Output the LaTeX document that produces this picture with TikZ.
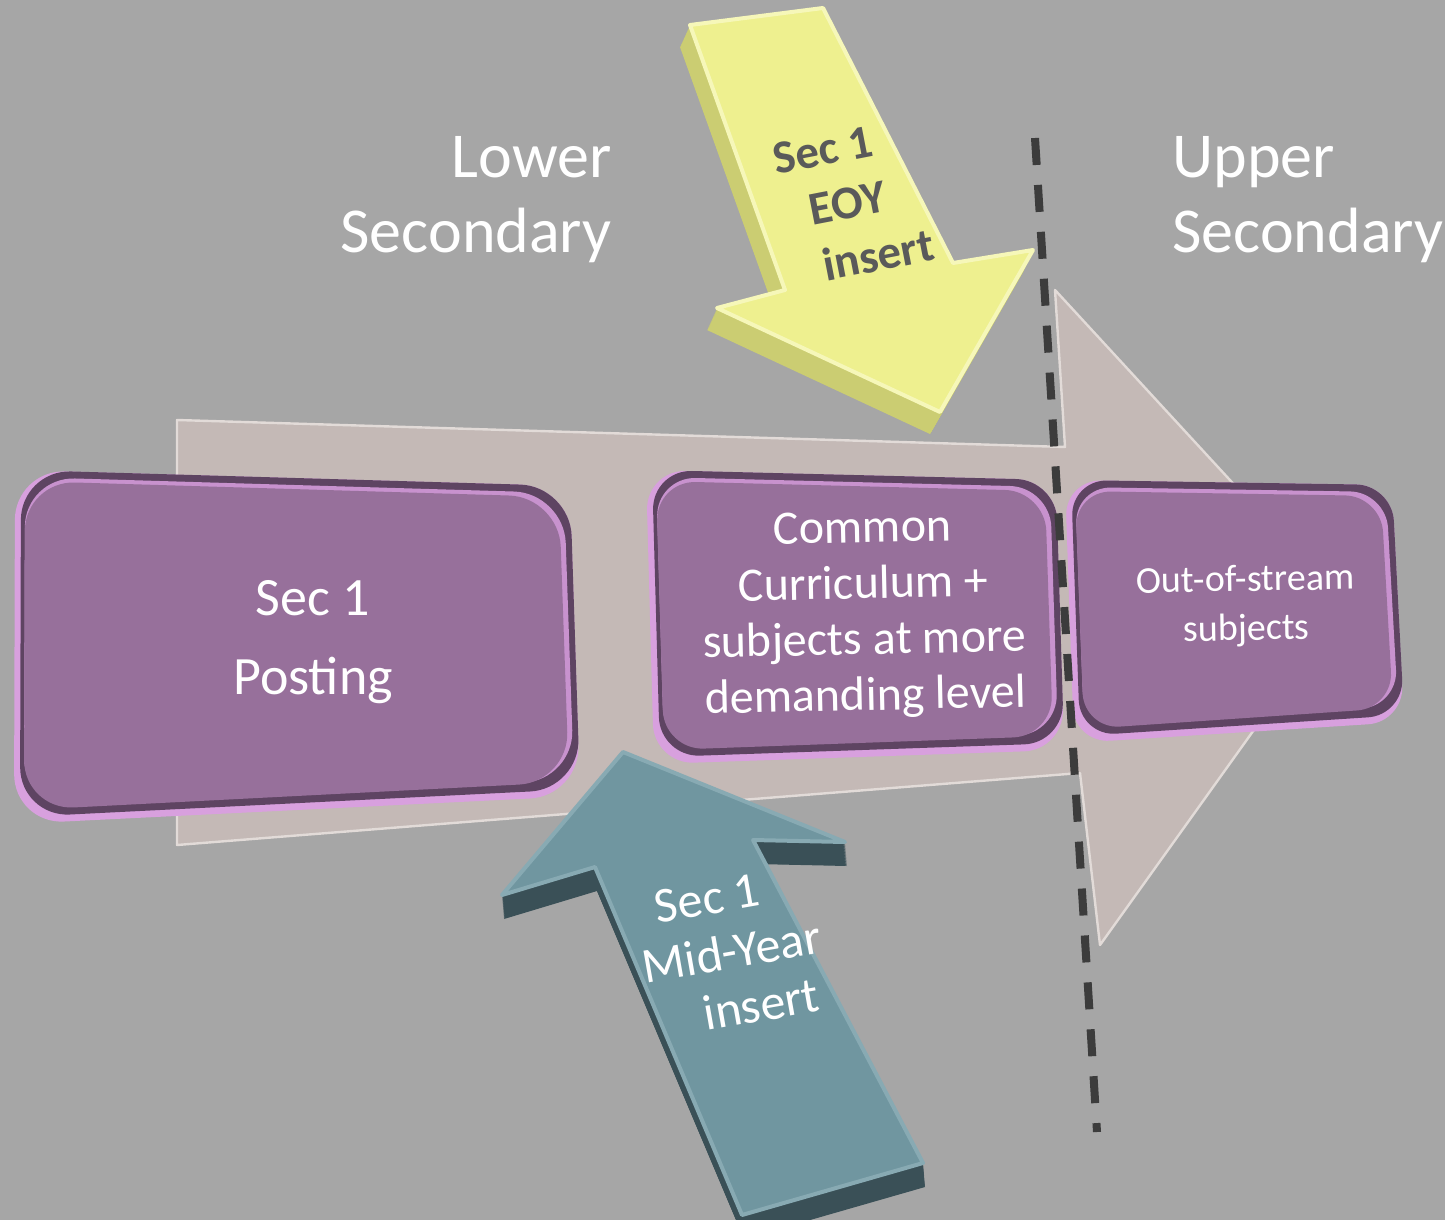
\documentclass[tikz,border=0pt]{standalone}
\usepackage{fontspec}
\setmainfont{Carlito}
\usetikzlibrary{calc}
\definecolor{bg}{RGB}{166,166,166}
\definecolor{bigarr}{RGB}{196,185,182}
\definecolor{bigedge}{RGB}{226,219,216}
\definecolor{boxpink}{RGB}{216,160,222}
\definecolor{boxdark}{RGB}{94,68,98}
\definecolor{boxhl}{RGB}{200,146,206}
\definecolor{boxface}{RGB}{151,112,155}
\definecolor{yface}{RGB}{238,240,143}
\definecolor{yside}{RGB}{203,205,114}
\definecolor{yhl}{RGB}{246,247,185}
\definecolor{ytext}{RGB}{90,90,90}
\definecolor{tface}{RGB}{112,150,160}
\definecolor{tside}{RGB}{58,80,87}
\definecolor{thl}{RGB}{136,170,179}
\definecolor{dashc}{RGB}{60,60,60}
\newcommand\qbox[6]{%
  \fill[#6] ($(#1tl)+({#2},{#3})$) -- ($(#1tr)+({-(#4)},{#3})$) -- ($(#1br)+({-(#4)},{-(#5)})$) -- ($(#1bl)+({#2},{-(#5)})$) -- cycle;}
\newcommand\layeredbox[2]{%
  \qbox{#1}{0}{0}{0}{0}{boxpink, rounded corners=#2}
  \qbox{#1}{6}{0}{0}{7}{boxdark, rounded corners=#2}
  \qbox{#1}{10}{7}{6}{16}{boxhl, rounded corners=#2}
  \qbox{#1}{10}{11}{11}{14}{boxface, rounded corners=#2}}
\tikzset{
  lbl/.style={text=white, font=\fontsize{32pt}{38pt}\selectfont, inner sep=0pt},
  btxtA/.style={text=white, font=\fontsize{27pt}{39.5pt}\selectfont, inner sep=0pt, align=center},
  btxtB/.style={text=white, font=\fontsize{24pt}{28pt}\selectfont, inner sep=0pt, align=center},
  btxtC/.style={text=white, font=\fontsize{19pt}{24.5pt}\selectfont, inner sep=0pt, align=center},
  ytxt/.style={text=ytext, font=\bfseries\fontsize{23.5pt}{28.5pt}\selectfont, inner sep=0pt, rotate=11, align=center},
  ttxt/.style={text=white, font=\fontsize{25pt}{28.5pt}\selectfont, inner sep=0pt, rotate=10, align=center},
  dashline/.style={draw=dashc, line width=4pt, dash pattern=on 13.5pt off 10pt}
}
\begin{document}
\begin{tikzpicture}[x=0.5pt,y=-0.5pt]
\fill[bg] (0,0) rectangle (1445,1220);
\useasboundingbox (0,0) rectangle (1445,1220);

% big arrow
\fill[bigarr, draw=bigedge, line width=1.2pt, line join=round]
  (177,420) -- (1065,447) -- (1055,290) -- (1344,604) -- (1100,945) -- (1080,773) -- (177,845) -- cycle;

% boxes
\coordinate (atl) at (15,470); \coordinate (atr) at (570,486);
\coordinate (abr) at (580,796); \coordinate (abl) at (14,824);
\coordinate (btl) at (646,470); \coordinate (btr) at (1056,480);
\coordinate (bbr) at (1064,750); \coordinate (bbl) at (654,764);
\coordinate (ctl) at (1065,480); \coordinate (ctr) at (1392,485);
\coordinate (cbr) at (1404,722); \coordinate (cbl) at (1074,743);
\layeredbox{a}{25pt}
\layeredbox{b}{20pt}
\layeredbox{c}{18pt}

\node[btxtA] (a1) at (313,642) {Sec 1\\Posting};
\node[btxtB, rotate=1.2] (b1) at (864,615) {Common\\Curriculum +\\subjects at more\\demanding level};
\node[btxtC, rotate=1] (c1) at (1246,606) {Out-of-stream\\subjects};

% yellow arrow
\def\yshape{(690,25) -- (823,8) -- (953,263) -- (1033,250) -- (940,412) -- (717,308) -- (785,290) -- cycle}
\foreach \k in {1,...,40} {
  \fill[yside, shift={(-10*\k/40, 22*\k/40)}] \yshape;
}
\fill[yface, draw=yhl, line width=2pt, line join=round] \yshape;
\node[ytxt] (y1) at (834,206) {Sec 1\\\hspace*{14pt}EOY\\\hspace*{34pt}insert};

% teal arrow
\def\tshape{(623,752) -- (845,842) -- (753,840) -- (923,1163) -- (742,1215) -- (595,867) -- (502,895) -- cycle}
\foreach \k in {1,...,40} {
  \fill[tside, shift={(2*\k/40, 24*\k/40)}] \tshape;
}
\fill[tface, draw=thl, line width=2pt, line join=round] \tshape;
\node[ttxt] (m1) at (717,955) {Sec 1\\\hspace*{15pt}Mid-Year\\\hspace*{35pt}insert};

% labels
\node[lbl, anchor=base east] (l1) at (612,177) {Lower};
\node[lbl, anchor=base east] (l2) at (612,252) {Secondary};
\node[lbl, anchor=base west] (u1) at (1172,177) {Upper};
\node[lbl, anchor=base west] (u2) at (1172,252) {Secondary};

% dashed divider
\coordinate (d1) at (1035,138);
\coordinate (d2) at (1097,1132);
\draw[dashline] (d1) -- (d2);
\end{tikzpicture}
\end{document}
